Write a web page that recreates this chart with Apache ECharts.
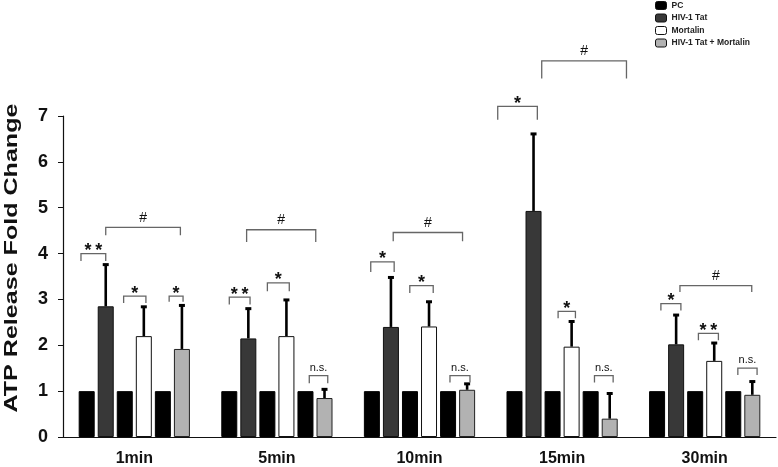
<!DOCTYPE html>
<html><head><meta charset="utf-8">
<script src="https://cdn.jsdelivr.net/npm/echarts@6/dist/echarts.min.js"></script>
<style>html,body{margin:0;padding:0;background:#fff}#c{width:778px;height:467px}</style>
</head><body><div id="c"></div>
<script>
// ---------- data ----------
const categories = ['1min', '5min', '10min', '15min', '30min'];
const yAxisTitle = 'ATP Release Fold Change';
const legendNames = ['PC', 'HIV-1 Tat', 'Mortalin', 'HIV-1 Tat + Mortalin'];
const pcValues = [1, 1, 1, 1, 1];
const tatValues = [2.85, 2.15, 2.40, 4.93, 2.02];
const tatErr = [0.92, 0.66, 1.09, 1.69, 0.65];
const mortalinValues = [2.20, 2.20, 2.41, 1.97, 1.66];
const mortalinErr = [0.65, 0.80, 0.55, 0.56, 0.40];
const comboValues = [1.92, 0.85, 1.03, 0.40, 0.92];
const comboErr = [0.96, 0.20, 0.14, 0.56, 0.30];
// significance brackets: [category index, from bar slot, to bar slot, bracket height, end drop]
const bracketSpans = [
  [0, -0.3, 1.0, 4.00, 0.16], [0, 1.0, 4.92, 4.57, 0.17], [0, 1.94, 3.11, 3.07, 0.15], [0, 4.33, 5.06, 3.07, 0.12],
  [1, 0.0, 1.09, 3.05, 0.16], [1, 0.91, 4.54, 4.52, 0.27], [1, 2.0, 3.15, 3.36, 0.18], [1, 4.2, 5.17, 1.34, 0.17],
  [2, -0.06, 1.17, 3.82, 0.22], [2, 1.12, 4.76, 4.46, 0.19], [2, 1.99, 3.22, 3.30, 0.16], [2, 4.1, 5.15, 1.34, 0.15],
  [3, -0.88, 1.2, 7.21, 0.29], [3, 1.43, 5.88, 8.20, 0.38], [3, 2.29, 3.2, 2.74, 0.15], [3, 4.2, 5.18, 1.34, 0.15],
  [4, 0.2, 1.25, 2.91, 0.15], [4, 1.2, 4.97, 3.30, 0.14], [4, 2.17, 3.22, 2.26, 0.15], [4, 4.24, 5.25, 1.50, 0.15]
];
const bracketLabels = [
  '*\u2009*', '#', '*', '*',
  '*\u2009*', '#', '*', 'n.s.',
  '*', '#', '*', 'n.s.',
  '*', '#', '*', 'n.s.',
  '*', '#', '*\u2009*', 'n.s.'
];

// ---------- layout / style ----------
const CAT_GAP = 0.22, BAR_GAP = 0.19, NBARS = 6;
const FONT = '"Liberation Sans", Arial, sans-serif';

function slotX(api, cat, slot) {
  const band = api.size([1, 0])[0];
  const w = band * (1 - CAT_GAP) / (NBARS + (NBARS - 1) * BAR_GAP);
  const pitch = w * (1 + BAR_GAP);
  const c = api.coord([cat, 0])[0];
  return c + (slot - (NBARS - 1) / 2) * pitch;
}

const errorData = [];
categories.forEach((c, i) => {
  errorData.push([i, 1, tatValues[i], tatErr[i]]);
  errorData.push([i, 3, mortalinValues[i], mortalinErr[i]]);
  errorData.push([i, 5, comboValues[i], comboErr[i]]);
});

function barSeries(name, data, color, border) {
  return {
    type: 'bar', name: name, data: data,
    barCategoryGap: (CAT_GAP * 100) + '%', barGap: (BAR_GAP * 100) + '%',
    itemStyle: { color: color, borderColor: border, borderWidth: 1 },
    emphasis: { disabled: true }
  };
}

const chart = echarts.init(document.getElementById('c'), null, { renderer: 'canvas' });
chart.setOption({
  animation: false,
  textStyle: { fontFamily: FONT },
  grid: { left: 63, right: 2, top: 116, bottom: 28, containLabel: false },
  legend: {
    data: legendNames,
    orient: 'vertical', left: 655, top: 1, padding: 0,
    itemWidth: 11, itemHeight: 8, itemGap: 3.5,
    icon: 'roundRect',
    itemStyle: { borderColor: '#111', borderWidth: 1 },
    textStyle: { fontFamily: FONT, fontSize: 8.5, fontWeight: 'bold', color: '#222' }
  },
  graphic: [{
    type: 'text', x: 11.5, y: 258, rotation: Math.PI / 2, scaleX: 1.32,
    style: { text: yAxisTitle, font: 'bold 19px ' + FONT, align: 'center', verticalAlign: 'middle', fill: '#111' }
  }],
  xAxis: {
    type: 'category', data: categories,
    axisLine: { lineStyle: { color: '#111', width: 1.2 } },
    axisTick: { show: false },
    axisLabel: { fontSize: 16, fontWeight: 'bold', color: '#111', margin: 14 }
  },
  yAxis: {
    type: 'value', min: 0, max: 7, interval: 1,
    splitLine: { show: false },
    axisLine: { show: true, lineStyle: { color: '#111', width: 1.2 } },
    axisTick: { show: true, length: 5, lineStyle: { color: '#111' } },
    axisLabel: { fontSize: 18, fontWeight: 'bold', color: '#111', margin: 15 }
  },
  series: [
    barSeries('PC', pcValues, '#000', '#000'),
    barSeries('HIV-1 Tat', tatValues, '#383838', '#111'),
    barSeries('PC', pcValues, '#000', '#000'),
    barSeries('Mortalin', mortalinValues, '#fff', '#111'),
    barSeries('PC', pcValues, '#000', '#000'),
    barSeries('HIV-1 Tat + Mortalin', comboValues, '#b2b2b2', '#222'),
    {
      type: 'custom', name: 'err', data: errorData, z: 5, silent: true,
      encode: { x: 0, y: 2 },
      renderItem: function (params, api) {
        const cat = api.value(0), slot = api.value(1), v = api.value(2), e = api.value(3);
        const x = slotX(api, cat, slot);
        const y0 = api.coord([cat, v])[1];
        const y1 = api.coord([cat, v + e])[1];
        return {
          type: 'group', children: [
            { type: 'line', shape: { x1: x, y1: y0, x2: x, y2: y1 }, style: { stroke: '#000', lineWidth: 2.6 } },
            { type: 'rect', shape: { x: x - 3, y: y1 - 1, width: 6, height: 3 }, style: { fill: '#000' } }
          ]
        };
      }
    },
    {
      type: 'custom', name: 'sig', data: bracketSpans, z: 6, silent: true,
      encode: { x: 0, y: 3 },
      renderItem: function (params, api) {
        const cat = api.value(0), a = api.value(1), b = api.value(2), h = api.value(3), d = api.value(4);
        const x0 = slotX(api, cat, a), x1 = slotX(api, cat, b);
        const y = api.coord([cat, h])[1];
        const yd = api.coord([cat, h - d])[1];
        const label = bracketLabels[params.dataIndex];
        let font, dy;
        if (label === '#') { font = '14px ' + FONT; dy = -9.5; }
        else if (label === 'n.s.') { font = '11px ' + FONT; dy = -8; }
        else { font = 'bold 18px ' + FONT; dy = -2.5; }
        return {
          type: 'group', children: [
            { type: 'polyline', shape: { points: [[x0, yd], [x0, y], [x1, y], [x1, yd]] }, style: { stroke: '#666', lineWidth: 1.3, fill: null } },
            { type: 'text', style: { text: label, x: (x0 + x1) / 2, y: y + dy, align: 'center', verticalAlign: 'middle', font: font, fill: '#111' } }
          ]
        };
      }
    }
  ]
});
</script>
</body></html>
